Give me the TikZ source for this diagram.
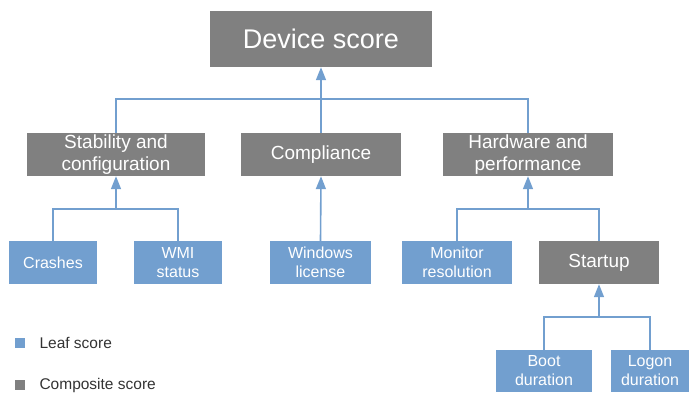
\documentclass[tikz,border=0pt]{standalone}
\usepackage{fontspec}
\setmainfont{Liberation Sans}
\usetikzlibrary{arrows.meta}

\definecolor{leafblue}{HTML}{729FCF}
\definecolor{compgray}{HTML}{808080}
\definecolor{legendtext}{HTML}{333333}

\tikzset{
    leafbox/.style={fill=leafblue, text=white, inner sep=0pt, align=center,
        minimum height=43pt, font=\fontsize{16}{19}\selectfont},
    compbox/.style={fill=compgray, text=white, inner sep=0pt, align=center,
        minimum height=43pt, font=\fontsize{19}{22}\selectfont},
    link/.style={draw=leafblue, line width=1.6pt},
    uplink/.style={link, -{Triangle[width=10pt, length=13pt]}},
}

\begin{document}
\begin{tikzpicture}[x=1pt, y=-1pt]
    \useasboundingbox (0, 0) rectangle (697, 395);

    \node[compbox, minimum width=222pt, minimum height=56pt, font=\fontsize{27}{30}\selectfont] (device) at (321, 39) {Device score};

    \node[compbox, minimum width=178pt] (stability) at (116, 154.5) {Stability and\\configuration};
    \node[compbox, minimum width=160pt] (compliance) at (321, 154.5) {Compliance};
    \node[compbox, minimum width=170pt] (hardware) at (528, 154.5) {Hardware and\\performance};

    \node[leafbox, minimum width=88pt] (crashes) at (53, 262.5) {Crashes};
    \node[leafbox, minimum width=88pt] (wmi) at (178, 262.5) {WMI\\status};
    \node[leafbox, minimum width=101pt] (license) at (320.5, 262.5) {Windows\\license};
    \node[leafbox, minimum width=110pt] (monitor) at (457, 262.5) {Monitor\\resolution};
    \node[compbox, minimum width=120pt] (startup) at (599, 262.5) {Startup};

    \node[leafbox, minimum width=96pt, minimum height=42pt] (boot) at (544, 371) {Boot\\duration};
    \node[leafbox, minimum width=78pt, minimum height=42pt] (logon) at (650, 371) {Logon\\duration};

    % junctions
    \coordinate (jdevice) at (321, 99);
    \coordinate (jstability) at (116, 209);
    \coordinate (jhardware) at (528, 209);
    \coordinate (jstartup) at (599, 317);

    \draw[link] (stability.north) |- (jdevice) -| (hardware.north);
    \draw[link] (compliance.north) -- (jdevice);
    \draw[uplink] (jdevice) -- (device.south);

    \draw[link] (crashes.north) |- (jstability) -| (wmi.north);
    \draw[uplink] (jstability) -- (stability.south);

    \draw[uplink] (license.north) -- (compliance.south);

    \draw[link] (monitor.north) |- (jhardware) -| (startup.north);
    \draw[uplink] (jhardware) -- (hardware.south);

    \draw[link] (boot.north) |- (jstartup) -| (logon.north);
    \draw[uplink] (jstartup) -- (startup.south);

    % legend
    \node[fill=leafblue, minimum size=10pt, inner sep=0pt] (leafkey) at (19.5, 343) {};
    \node[anchor=west, text=legendtext, font=\fontsize{15.5}{18}\selectfont] (leaflabel) at (36, 343) {Leaf score};
    \node[fill=compgray, minimum size=10pt, inner sep=0pt] (compkey) at (19.5, 385) {};
    \node[anchor=west, text=legendtext, font=\fontsize{15.5}{18}\selectfont] (complabel) at (36, 385) {Composite score};
\end{tikzpicture}
\end{document}
